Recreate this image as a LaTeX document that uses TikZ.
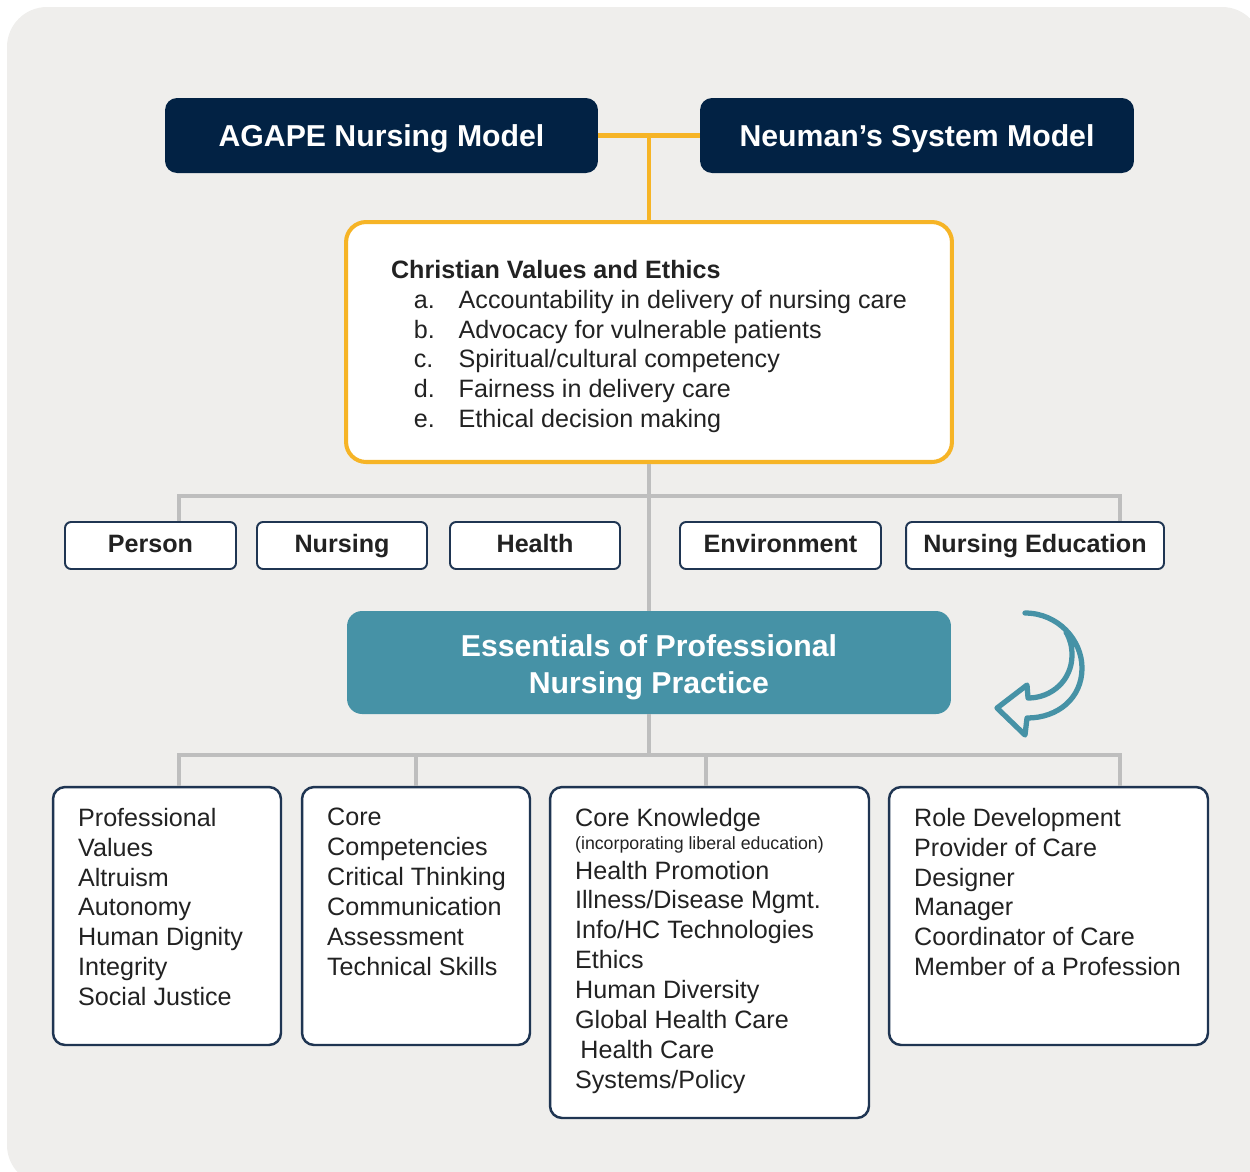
\documentclass[tikz,border=0pt]{standalone}
\usepackage{fontspec}
\setmainfont{Liberation Sans}
\definecolor{bgfill}{HTML}{EFEEEC}
\definecolor{navy}{HTML}{022244}
\definecolor{edgenavy}{HTML}{1F3552}
\definecolor{gold}{HTML}{F6B426}
\definecolor{teal}{HTML}{4692A6}
\definecolor{linkgrey}{HTML}{BEBEBE}
\definecolor{ink}{HTML}{222222}
\tikzset{model/.style = {shape=rectangle, fill=navy, rounded corners=0.24cm, minimum height=1.5cm,
    text=white, font=\bfseries\fontsize{17.2}{20}\selectfont, text height=15pt, text depth=2pt}}
\tikzset{valuebox/.style = {shape=rectangle, draw=gold, line width=2.3pt, fill=white, rounded corners=0.4cm,
    minimum width=12.12cm, minimum height=4.8cm, align=left, text=ink, font=\fontsize{14.3}{17}\selectfont}}
\tikzset{concept/.style = {shape=rectangle, draw=edgenavy, line width=1.1pt, fill=white, rounded corners=0.12cm,
    minimum height=0.94cm, text=ink, font=\bfseries\fontsize{14.3}{16}\selectfont, text height=11pt, text depth=3pt}}
\tikzset{essential/.style = {shape=rectangle, fill=teal, rounded corners=0.3cm, minimum width=12.08cm,
    minimum height=2.06cm, align=center, text=white, font=\bfseries\fontsize{17.2}{21}\selectfont}}
\tikzset{listbox/.style = {shape=rectangle, draw=edgenavy, line width=1.4pt, fill=white, rounded corners=0.24cm}}
\tikzset{listtext/.style = {anchor=north west, inner sep=0pt, align=left, text=ink, font=\fontsize{14.3}{17}\selectfont}}
\tikzset{goldline/.style = {draw=gold, line width=2.3pt}}
\tikzset{greyline/.style = {draw=linkgrey, line width=2.3pt}}
\newcommand{\itm}[1]{\hspace*{13pt}\makebox[25.5pt][l]{#1}}

\begin{document}
\begin{tikzpicture}[x=0.02cm, y=-0.02cm]
  \useasboundingbox (0,0) rectangle (1250,1171);
  \fill[bgfill, rounded corners=0.8cm] (7,7) rectangle (1262,1185);

  % models
  \node[model, minimum width=8.66cm] (agape) at (381.5,135.5) {AGAPE Nursing Model};
  \node[model, minimum width=8.68cm] (neuman) at (917,135.5) {Neuman’s System Model};
  \node[valuebox] (values) at (649,342) {\rule{0pt}{15.5pt}\textbf{Christian Values and Ethics}\\
    \itm{a.}Accountability in delivery of nursing care\\
    \itm{b.}Advocacy for vulnerable patients\\
    \itm{c.}Spiritual/cultural competency\\
    \itm{d.}Fairness in delivery care\\
    \itm{e.}Ethical decision making};

  % concepts
  \node[concept, minimum width=3.42cm] (person) at (150.5,545.5) {Person};
  \node[concept, minimum width=3.4cm] (nursing) at (342,545.5) {Nursing};
  \node[concept, minimum width=3.4cm] (health) at (535,545.5) {Health};
  \node[concept, minimum width=4.02cm] (environment) at (780.5,545.5) {Environment};
  \node[concept, minimum width=5.16cm] (nursed) at (1035,545.5) {Nursing Education};

  \node[essential] (essentials) at (649,662.5) {\rule{0pt}{18pt}Essentials of Professional\\Nursing Practice};

  % essentials
  \node[listbox, minimum width=4.56cm, minimum height=5.16cm] (profval) at (167,916) {};
  \node[listbox, minimum width=4.56cm, minimum height=5.16cm] (corecomp) at (416,916) {};
  \node[listbox, minimum width=6.38cm, minimum height=6.62cm] (coreknow) at (709.5,952.5) {};
  \node[listbox, minimum width=6.38cm, minimum height=5.16cm] (roles) at (1048.5,916) {};

  \node[listtext] (profvaltext) at ([shift={(26,22)}]profval.north west)
    {Professional\\Values\\Altruism\\Autonomy\\Human Dignity\\Integrity\\Social Justice};
  \node[listtext] (corecomptext) at ([shift={(26,22)}]corecomp.north west)
    {Core\\Competencies\\Critical Thinking\\Communication\\Assessment\\Technical Skills};
  \node[listtext] (coreknowtext) at ([shift={(26,22)}]coreknow.north west)
    {Core Knowledge\\[-4pt]{\fontsize{10.1}{11}\selectfont(incorporating liberal education)}\\[0pt]
     Health Promotion\\Illness/Disease Mgmt.\\Info/HC Technologies\\Ethics\\Human Diversity\\
     Global Health Care\\\hspace*{3pt}Health Care\\Systems/Policy};
  \node[listtext] (rolestext) at ([shift={(26,22)}]roles.north west)
    {Role Development\\Provider of Care\\Designer\\Manager\\Coordinator of Care\\Member of a Profession};

  % connectors
  \draw[goldline] (agape.east) -- (neuman.west);
  \draw[goldline] (agape.east -| values.north) -- (values.north);

  \coordinate (tl) at (179,496);
  \coordinate (tr) at (1120,496);
  \draw[greyline] (values.south) -- (essentials.north);
  \draw[greyline] (person.north -| tl) -- (tl) -- (tr) -- (nursed.north -| tr);

  \coordinate (bl) at (179,755);
  \coordinate (br) at (1120,755);
  \coordinate (kn) at (706,755);
  \draw[greyline] (essentials.south) -- (essentials.south |- bl);
  \draw[greyline] (profval.north -| bl) -- (bl) -- (br) -- (roles.north -| br);
  \draw[greyline] (corecomp.north) -- (corecomp.north |- bl);
  \draw[greyline] (kn) -- (kn |- coreknow.north);

  % turn arrow
  \draw[teal, line width=3pt, line join=round, line cap=round]
    (1025,613) .. controls (1058,613) and (1082,640) .. (1082,668)
    .. controls (1082,698) and (1058,718) .. (1027,718) -- (1025,735) -- (997,708) -- (1027,685)
    -- (1028,698) .. controls (1052,698) and (1072,680) .. (1072,655)
    .. controls (1072,646) and (1070,639) .. (1066,632);
\end{tikzpicture}
\end{document}
